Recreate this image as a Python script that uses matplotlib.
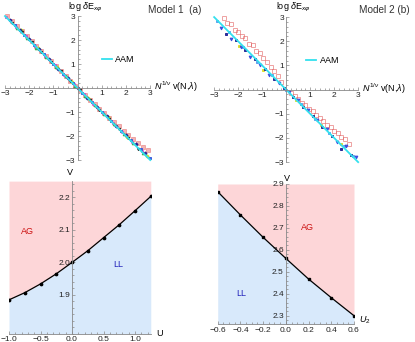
import matplotlib
matplotlib.use("Agg")
import matplotlib.pyplot as plt
from matplotlib.ticker import MultipleLocator, FixedLocator

plt.rcParams['font.family'] = ['Liberation Sans', 'DejaVu Sans']
plt.rcParams['mathtext.fontset'] = 'custom'
plt.rcParams['mathtext.rm'] = 'Liberation Sans'
plt.rcParams['mathtext.it'] = 'Liberation Sans:italic'

# ---- data: scaling collapse, model 1 ----
m1_red_x = [-2.9, -2.7, -2.5, -2.3, -2.1, -1.9, -1.7, -1.5, -1.3, -1.1, -0.9, -0.7, -0.5, -0.3, -0.1,
            0.1, 0.3, 0.5, 0.7, 0.9, 1.1, 1.3, 1.5, 1.7, 1.9, 2.1, 2.3, 2.5, 2.7, 2.9]
m1_red_y = [3.0, 2.8, 2.6, 2.39, 2.18, 1.98, 1.77, 1.56, 1.35, 1.14, 0.93, 0.72, 0.51, 0.3, 0.1,
            -0.1, -0.29, -0.48, -0.67, -0.86, -1.05, -1.23, -1.41, -1.59, -1.77, -1.95, -2.12, -2.29, -2.45, -2.6]
m1_navy_x = [-2.8, -2.4, -2.0, -1.6, -1.2, -0.8, -0.4, 0.0, 0.4, 0.8, 1.2, 1.6, 2.0, 2.4, 2.8]
m1_navy_y = [2.84, 2.44, 2.03, 1.63, 1.22, 0.81, 0.41, 0.0, -0.4, -0.79, -1.18, -1.57, -1.96, -2.35, -2.72]
m1_blue_x = [-2.6, -2.2, -1.8, -1.4, -1.0, -0.6, -0.2, 0.2, 0.6, 1.0, 1.4, 1.8, 2.2, 2.6, 3.0]
m1_blue_y = [2.62, 2.22, 1.81, 1.41, 1.0, 0.6, 0.2, -0.2, -0.6, -0.99, -1.38, -1.78, -2.17, -2.56, -2.92]
m1_green_x = [-2.5, -2.1, -1.7, -1.3, -0.9, -0.5, -0.1, 0.3, 0.7, 1.1, 1.5, 1.9, 2.3, 2.7]
m1_green_y = [2.5, 2.1, 1.69, 1.29, 0.89, 0.49, 0.09, -0.31, -0.7, -1.1, -1.5, -1.9, -2.3, -2.71]
m1_black_x = [-2.7, -2.3, -1.9, -1.5, -1.1, -0.7, -0.3, 0.1, 0.5, 0.9, 1.3, 1.7, 2.1, 2.5]
m1_black_y = [2.73, 2.32, 1.91, 1.5, 1.1, 0.7, 0.3, -0.1, -0.5, -0.9, -1.3, -1.7, -2.1, -2.52]
m1_mag_x = [-2.95, -2.55, -2.15, -1.75, -1.35, -0.95, -0.55, -0.15, 0.25, 0.65, 1.05, 1.45, 1.85, 2.25, 2.65]
m1_mag_y = [2.95, 2.55, 2.15, 1.75, 1.35, 0.95, 0.55, 0.15, -0.25, -0.65, -1.05, -1.45, -1.85, -2.25, -2.64]
m1_yel_x = [-2.35, -1.65, -0.85, -0.25, 0.45, 1.25, 2.05, 2.85]
m1_yel_y = [2.4, 1.68, 0.88, 0.27, -0.43, -1.22, -2.03, -2.82]

# ---- data: scaling collapse, model 2 ----
m2_red_x = [-2.6, -2.45, -2.3, -2.15, -2.0, -1.85, -1.7, -1.55, -1.4, -1.25, -1.1, -0.95, -0.8, -0.65, -0.5,
            -0.35, -0.2, 0.2, 0.35, 0.5, 0.65, 0.8, 0.95, 1.1, 1.25, 1.4, 1.55, 1.7, 1.85, 2.0, 2.15, 2.3, 2.45, 2.6]
m2_red_y = [2.95, 2.75, 2.7, 2.45, 2.4, 2.2, 2.15, 1.9, 1.85, 1.6, 1.5, 1.3, 1.15, 0.95, 0.75,
            0.55, 0.3, -0.12, -0.25, -0.38, -0.55, -0.65, -0.8, -0.9, -1.05, -1.18, -1.3, -1.45, -1.55, -1.72, -1.8, -1.98, -2.05, -2.25]
m2_navy_x = [-2.5, -2.1, -1.7, -1.3, -0.9, -0.5, -0.1, 0.3, 0.7, 1.1, 1.5, 1.9, 2.3, 2.7]
m2_navy_y = [2.3, 2.05, 1.65, 1.25, 0.85, 0.45, 0.08, -0.32, -0.72, -1.08, -1.55, -1.9, -2.45, -2.72]
m2_blue_x = [-2.7, -2.3, -1.9, -1.5, -1.1, -0.7, -0.3, 0.1, 0.5, 0.9, 1.3, 1.7, 2.1, 2.5, 2.9]
m2_blue_y = [2.55, 2.1, 1.75, 1.35, 1.0, 0.6, 0.28, -0.1, -0.45, -0.85, -1.25, -1.65, -2.15, -2.35, -2.8]
m2_lblue_x = [-2.9, -2.4, -1.8, -1.2, -0.6, 0.0, 0.6, 1.2, 1.8, 2.4, 2.8]
m2_lblue_y = [2.85, 2.4, 1.75, 1.15, 0.6, 0.0, -0.6, -1.2, -1.8, -2.35, -2.75]
m2_yel_x = [-1.95, -0.95, 0.4, 1.45, 2.3]
m2_yel_y = [1.8, 0.8, -0.45, -1.45, -2.25]

aam_x = [-3, 3]
aam_y = [3, -3]

# ---- data: phase diagrams ----
m1_U = [-1.0, -0.75, -0.5, -0.25, 0.0, 0.25, 0.5, 0.75, 1.0, 1.25]
m1_V = [1.885, 1.907, 1.934, 1.965, 2.0, 2.036, 2.076, 2.116, 2.159, 2.203]
m2_U = [-0.6, -0.4, -0.2, 0.0, 0.2, 0.4, 0.6]
m2_V = [2.865, 2.759, 2.657, 2.561, 2.467, 2.382, 2.300]

pink = '#fdd6d8'
lblue = '#d8e9fb'
axcol = '#888888'
fs_tick = 6

fig = plt.figure(figsize=(4.15, 3.42), dpi=100)


def style(ax):
    for s in ['top', 'right']:
        ax.spines[s].set_visible(False)
    for s in ['left', 'bottom']:
        ax.spines[s].set_color(axcol)
        ax.spines[s].set_linewidth(0.6)
    ax.tick_params(which='both', direction='in', colors=axcol, labelcolor='#222222',
                   labelsize=fs_tick, width=0.5, pad=1.5)
    ax.tick_params(which='major', length=2.5)
    ax.tick_params(which='minor', length=1.3)
    ax.patch.set_alpha(0)


def collapse(ax, series, legpos):
    ax.set_xlim(-3, 3)
    ax.set_ylim(-3, 3)
    style(ax)
    ax.spines['left'].set_position(('data', 0))
    ax.spines['bottom'].set_position(('data', 0))
    ax.xaxis.set_major_locator(FixedLocator([-3, -2, -1, 1, 2, 3]))
    ax.yaxis.set_major_locator(FixedLocator([-3, -2, -1, 1, 2, 3]))
    ax.xaxis.set_minor_locator(MultipleLocator(0.2))
    ax.yaxis.set_minor_locator(MultipleLocator(0.2))
    for xs, ys, c, m, ms, a, fill in series:
        ax.plot(xs, ys, linestyle='none', marker=m, color=c, markersize=ms, alpha=a,
                markerfacecolor=c if fill else 'none', markeredgewidth=0.7, clip_on=False)
    ln, = ax.plot(aam_x, aam_y, color='#33e0ee', lw=1.3, clip_on=False, label='AAM')
    ax.legend(handles=[ln], loc='center left', bbox_to_anchor=legpos, frameon=False,
              fontsize=6.5, handlelength=1.1, handletextpad=0.4, borderpad=0, borderaxespad=0)
    ax.text(3.15, 0.05, r"$N^{1/\nu}$ v(N,$\lambda$)", fontsize=6.5, ha='left', va='center')
    ax.text(0.3, 3.38, r"log $\delta$E$_{x\varphi}$", fontsize=6.5, ha='center', va='center')


ax1 = fig.add_axes([0.012, 0.532, 0.35, 0.421])
collapse(ax1, [
    (m1_red_x, m1_red_y, '#e66a6a', 's', 2.4, 0.5, True),
    (m1_mag_x, m1_mag_y, '#cc33cc', 'o', 1.6, 0.8, True),
    (m1_yel_x, m1_yel_y, '#bbdd22', 'D', 1.7, 0.9, True),
    (m1_green_x, m1_green_y, '#33aa44', '^', 1.9, 0.9, True),
    (m1_black_x, m1_black_y, '#222222', 'v', 1.7, 0.9, True),
    (m1_blue_x, m1_blue_y, '#3355dd', 's', 1.7, 0.9, True),
    (m1_navy_x, m1_navy_y, '#1a1a90', 'D', 1.6, 0.9, True),
], (0.665, 0.70))
fig.text(0.42, 0.985, "Model 1  (a)", fontsize=7.2, ha='center', va='top', color='#333333')

ax2 = fig.add_axes([0.516, 0.526, 0.347, 0.424])
collapse(ax2, [
    (m2_red_x, m2_red_y, '#e05555', 's', 2.6, 0.55, False),
    (m2_yel_x, m2_yel_y, '#dddd22', 's', 1.8, 0.9, True),
    (m2_lblue_x, m2_lblue_y, '#5599ee', 's', 2.0, 0.9, True),
    (m2_blue_x, m2_blue_y, '#3344dd', 'v', 2.0, 0.9, True),
    (m2_navy_x, m2_navy_y, '#1a1a90', 's', 2.0, 0.9, True),
], (0.64, 0.70))
fig.text(0.925, 0.985, "Model 2 (b)", fontsize=7.2, ha='center', va='top', color='#333333')

# ---- phase diagram, model 1 ----
ax3 = fig.add_axes([0.0217, 0.0234, 0.3416, 0.447])
y_lo, y_hi = 1.78, 2.25
ax3.fill_between(m1_U, m1_V, y_hi, color=pink, lw=0)
ax3.fill_between(m1_U, y_lo, m1_V, color=lblue, lw=0)
ax3.plot(m1_U, m1_V, color='black', lw=0.9, marker='o', markersize=1.7)
ax3.set_xlim(-1.0, 1.25)
ax3.set_ylim(y_lo, y_hi)
style(ax3)
ax3.spines['left'].set_position(('data', 0))
ax3.xaxis.set_major_locator(FixedLocator([-1.0, -0.5, 0.0, 0.5, 1.0]))
ax3.yaxis.set_major_locator(FixedLocator([1.9, 2.0, 2.1, 2.2]))
ax3.xaxis.set_minor_locator(MultipleLocator(0.1))
ax3.yaxis.set_minor_locator(MultipleLocator(0.02))
ax3.xaxis.set_major_formatter(lambda v, p: f"{v:.1f}".replace('-', '\u2212'))
ax3.yaxis.set_major_formatter(lambda v, p: f"{v:.1f}")
ax3.text(-0.71, 2.096, "AG", color='#cc1111', fontsize=6.5, ha='center', va='center')
ax3.text(0.73, 1.995, "LL", color='#2222bb', fontsize=6.5, ha='center', va='center')
ax3.text(-0.03, 2.262, "V", fontsize=6.5, ha='center', va='bottom')
ax3.text(1.33, y_lo, "U", fontsize=6.5, ha='left', va='center')

# ---- phase diagram, model 2 ----
ax4 = fig.add_axes([0.5246, 0.0512, 0.3284, 0.4108])
y_lo2, y_hi2 = 2.26, 2.9
ax4.fill_between(m2_U, m2_V, y_hi2, color=pink, lw=0)
ax4.fill_between(m2_U, y_lo2, m2_V, color=lblue, lw=0)
ax4.plot(m2_U, m2_V, color='black', lw=0.9, marker='s', markersize=1.7)
ax4.set_xlim(-0.6, 0.6)
ax4.set_ylim(y_lo2, y_hi2)
style(ax4)
ax4.spines['left'].set_position(('data', 0))
ax4.xaxis.set_major_locator(FixedLocator([-0.6, -0.4, -0.2, 0.0, 0.2, 0.4, 0.6]))
ax4.yaxis.set_major_locator(FixedLocator([2.3, 2.4, 2.5, 2.6, 2.7, 2.8, 2.9]))
ax4.xaxis.set_minor_locator(MultipleLocator(0.05))
ax4.yaxis.set_minor_locator(MultipleLocator(0.02))
ax4.xaxis.set_major_formatter(lambda v, p: f"{v:.1f}".replace('-', '\u2212'))
ax4.yaxis.set_major_formatter(lambda v, p: f"{v:.1f}")
ax4.text(0.19, 2.704, "AG", color='#cc1111', fontsize=6.5, ha='center', va='center')
ax4.text(-0.39, 2.403, "LL", color='#2222bb', fontsize=6.5, ha='center', va='center')
ax4.text(0.01, 2.905, "V", fontsize=6.5, ha='center', va='bottom')
ax4.text(0.64, 2.28, r"$U_2$", fontsize=6.5, ha='left', va='center')

fig.savefig("out.png", dpi=100)
